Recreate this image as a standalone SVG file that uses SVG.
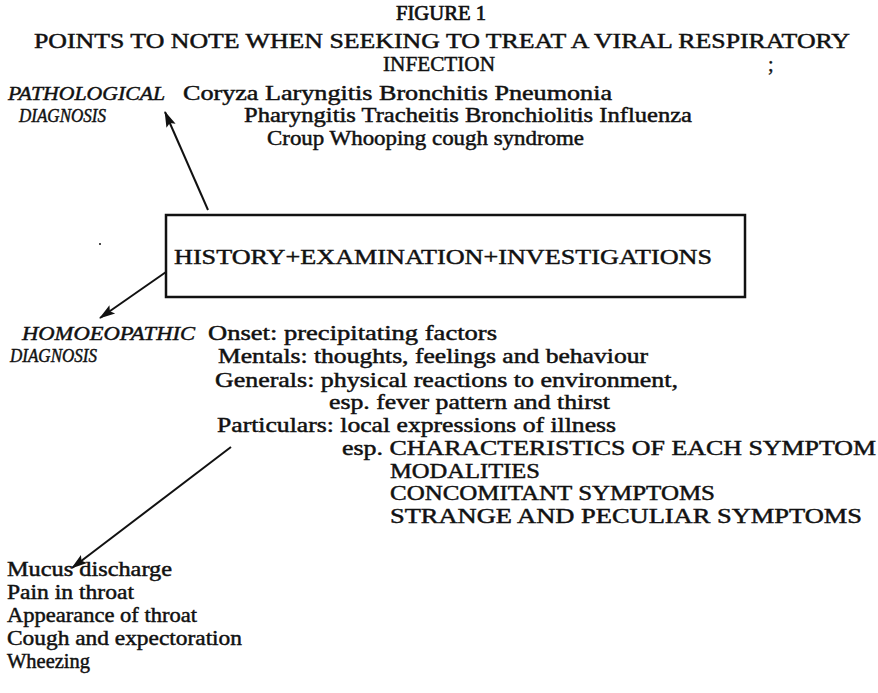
<svg xmlns="http://www.w3.org/2000/svg" width="878" height="693" viewBox="0 0 878 693">
<style>
text{font-family:"Liberation Serif","Times New Roman",serif;fill:#111;font-size:20px;stroke:#111;stroke-width:0.45}
.it{font-style:italic;font-size:19px}
.hd{stroke-width:0.7}
.bx{font-size:22px}
.ln{stroke:#111;stroke-width:2;fill:none}
</style>
<defs>
<marker id="ah" viewBox="0 0 16 10" refX="15" refY="5" markerWidth="16" markerHeight="10" markerUnits="userSpaceOnUse" orient="auto" overflow="visible">
<path d="M0,0 L16,5 L0,10 L3,5 Z" fill="#111"/>
</marker>
</defs>
<rect width="878" height="693" fill="#fff"/>
<g id="title">
<text class="hd" x="396" y="20" textLength="90" lengthAdjust="spacingAndGlyphs">FIGURE 1</text>
<text x="34" y="48" textLength="816" lengthAdjust="spacingAndGlyphs">POINTS TO NOTE WHEN SEEKING TO TREAT A VIRAL RESPIRATORY</text>
<text x="383" y="71" textLength="112" lengthAdjust="spacingAndGlyphs">INFECTION</text>
<text x="768" y="71">;</text>
</g>
<g id="pathological">
<text class="it" x="8" y="100" textLength="157" lengthAdjust="spacingAndGlyphs">PATHOLOGICAL</text>
<text class="it" x="19" y="122" textLength="87" lengthAdjust="spacingAndGlyphs">DIAGNOSIS</text>
<text x="183" y="100" textLength="429" lengthAdjust="spacingAndGlyphs">Coryza Laryngitis Bronchitis Pneumonia</text>
<text x="244" y="122" textLength="448" lengthAdjust="spacingAndGlyphs">Pharyngitis Tracheitis Bronchiolitis Influenza</text>
<text x="267" y="145" textLength="317" lengthAdjust="spacingAndGlyphs">Croup Whooping cough syndrome</text>
</g>
<g id="history">
<rect x="166" y="215" width="579" height="82" fill="none" stroke="#111" stroke-width="2.5"/>
<text class="bx" x="174" y="264" textLength="538" lengthAdjust="spacingAndGlyphs">HISTORY+EXAMINATION+INVESTIGATIONS</text>
<circle cx="100" cy="244" r="1" fill="#111"/>
</g>
<g id="homoeopathic">
<text class="it" x="22" y="340" textLength="173" lengthAdjust="spacingAndGlyphs">HOMOEOPATHIC</text>
<text class="it" x="10" y="362" textLength="87" lengthAdjust="spacingAndGlyphs">DIAGNOSIS</text>
<text x="208" y="340" textLength="289" lengthAdjust="spacingAndGlyphs">Onset: precipitating factors</text>
<text x="218" y="363" textLength="430" lengthAdjust="spacingAndGlyphs">Mentals: thoughts, feelings and behaviour</text>
<text x="215" y="387" textLength="463" lengthAdjust="spacingAndGlyphs">Generals: physical reactions to environment,</text>
<text x="329" y="409" textLength="281" lengthAdjust="spacingAndGlyphs">esp. fever pattern and thirst</text>
<text x="217" y="432" textLength="399" lengthAdjust="spacingAndGlyphs">Particulars: local expressions of illness</text>
<text x="342" y="455" textLength="534" lengthAdjust="spacingAndGlyphs">esp. CHARACTERISTICS OF EACH SYMPTOM</text>
<text x="390" y="478" textLength="150" lengthAdjust="spacingAndGlyphs">MODALITIES</text>
<text x="390" y="500" textLength="325" lengthAdjust="spacingAndGlyphs">CONCOMITANT SYMPTOMS</text>
<text x="390" y="523" textLength="472" lengthAdjust="spacingAndGlyphs">STRANGE AND PECULIAR SYMPTOMS</text>
</g>
<g id="particulars">
<text x="7" y="576" textLength="165" lengthAdjust="spacingAndGlyphs">Mucus discharge</text>
<text x="7" y="599" textLength="127" lengthAdjust="spacingAndGlyphs">Pain in throat</text>
<text x="7" y="622" textLength="190" lengthAdjust="spacingAndGlyphs">Appearance of throat</text>
<text x="7" y="645" textLength="235" lengthAdjust="spacingAndGlyphs">Cough and expectoration</text>
<text x="7" y="668" textLength="83" lengthAdjust="spacingAndGlyphs">Wheezing</text>
</g>
<g id="connectors">
<line class="ln" x1="208" y1="210" x2="165" y2="112" marker-end="url(#ah)"/>
<line class="ln" x1="166" y1="272" x2="100" y2="318" marker-end="url(#ah)"/>
<line class="ln" x1="231" y1="447" x2="72" y2="568" marker-end="url(#ah)"/>
</g>
</svg>
